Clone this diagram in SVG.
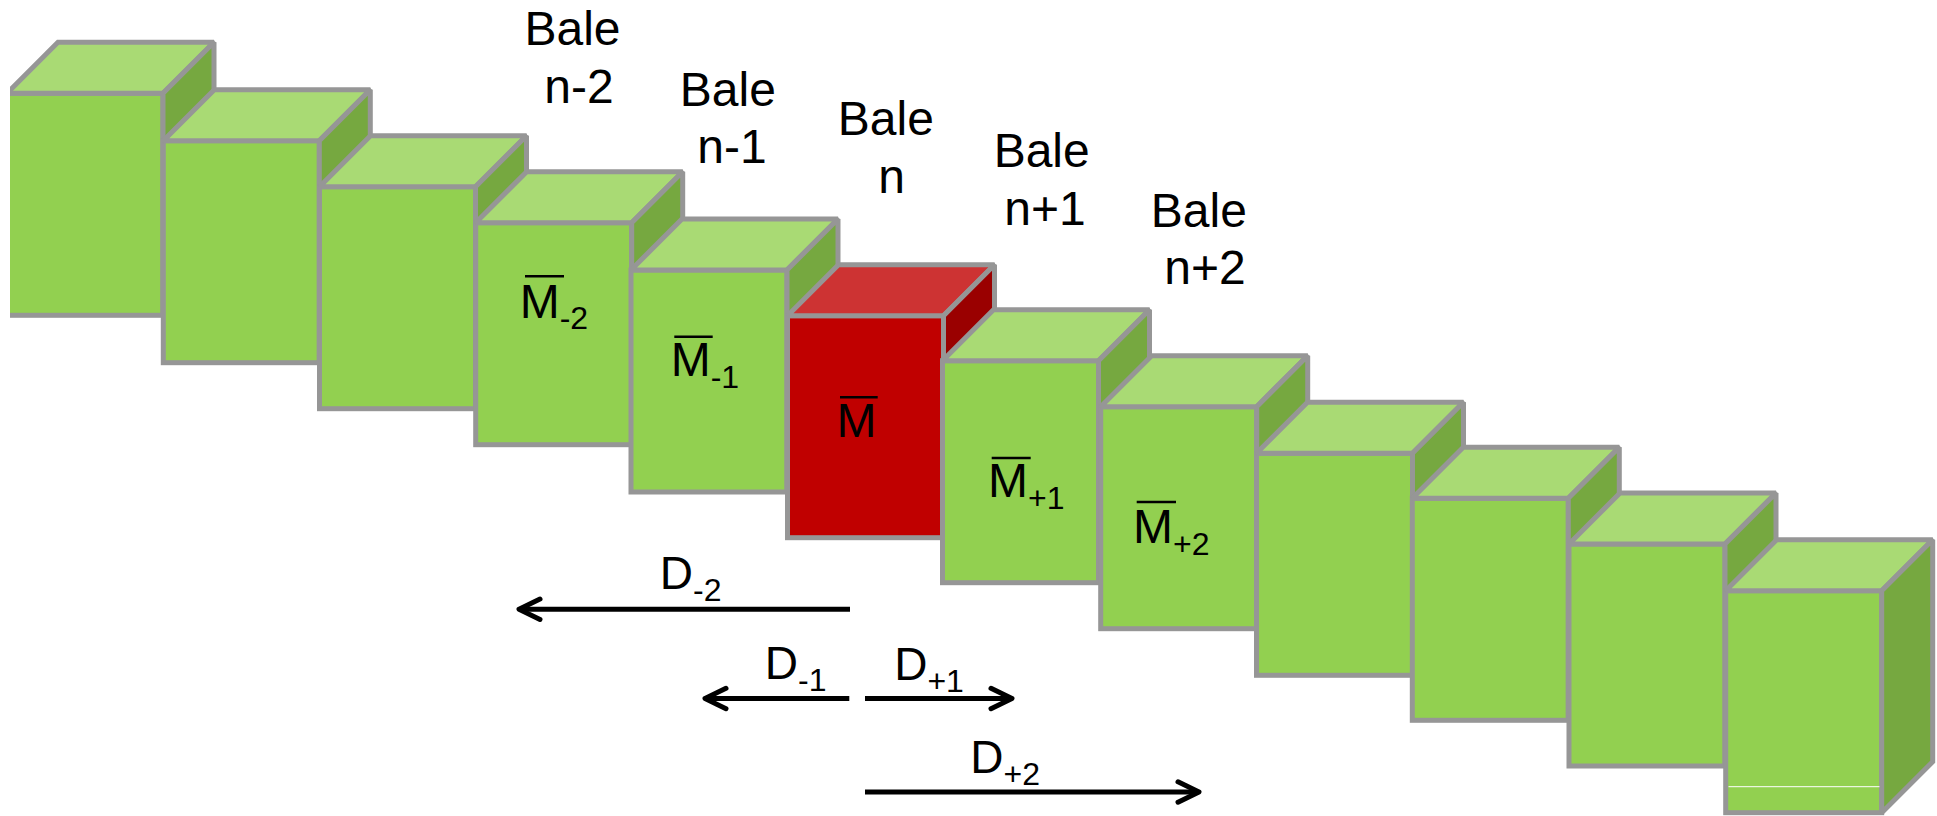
<svg xmlns="http://www.w3.org/2000/svg" width="1937" height="816" viewBox="0 0 1937 816">
<style>
.cube rect,.cube polygon{stroke:#969696;stroke-width:5;stroke-linejoin:miter;stroke-miterlimit:2}
.front{fill:#92D050}.top{fill:#A9DA74}.side{fill:#76A840}
.red .front{fill:#C00000}.red .top{fill:#CD3333}.red .side{fill:#9A0000}
text{font-family:"Liberation Sans",Arial,sans-serif;fill:#000}
.bale{font-size:48px;text-anchor:middle}
.m{font-size:48px}
.d{font-size:46px}
.sub{font-size:32px}
.bar{stroke:#000;stroke-width:2.5}
.arr{stroke:#000;stroke-width:5;fill:none}
.head{stroke:#000;stroke-width:5;fill:none;stroke-linecap:round;stroke-linejoin:round}
</style>
<defs>
<clipPath id="clipL"><rect x="10" y="0" width="1927" height="816"/></clipPath>
</defs>
<rect width="1937" height="816" fill="#fff"/>

<g id="cube1" class="cube" clip-path="url(#clipL)"><g transform="translate(7,93.3)">
<rect class="front" x="0" y="0" width="156" height="222"/><polygon class="top" points="0,0 51,-51 207,-51 156,0"/><polygon class="side" points="156,0 207,-51 207,171 156,222"/></g></g>

<g id="cube2" class="cube"><g transform="translate(163.3,140.7)">
<rect class="front" x="0" y="0" width="156" height="222"/><polygon class="top" points="0,0 51,-51 207,-51 156,0"/><polygon class="side" points="156,0 207,-51 207,171 156,222"/></g></g>

<g id="cube3" class="cube"><g transform="translate(319.5,186.7)">
<rect class="front" x="0" y="0" width="156" height="222"/><polygon class="top" points="0,0 51,-51 207,-51 156,0"/><polygon class="side" points="156,0 207,-51 207,171 156,222"/></g></g>

<g id="cube4" class="cube"><g transform="translate(475.7,222.7)">
<rect class="front" x="0" y="0" width="156" height="222"/><polygon class="top" points="0,0 51,-51 207,-51 156,0"/><polygon class="side" points="156,0 207,-51 207,171 156,222"/></g>
<text class="bale" x="572.5" y="45">Bale</text><text class="bale" x="579" y="103.3">n-2</text>
<text class="m" x="519.7" y="318.3">M<tspan class="sub" dy="11">-2</tspan></text>
<line class="bar" x1="525" y1="276.2" x2="564" y2="276.2"/>
</g>

<g id="cube5" class="cube"><g transform="translate(631,270)">
<rect class="front" x="0" y="0" width="156" height="222"/><polygon class="top" points="0,0 51,-51 207,-51 156,0"/><polygon class="side" points="156,0 207,-51 207,171 156,222"/></g>
<text class="bale" x="727.8" y="106">Bale</text><text class="bale" x="732" y="163.3">n-1</text>
<text class="m" x="670.7" y="376">M<tspan class="sub" dy="12">-1</tspan></text>
<line class="bar" x1="674.3" y1="336.8" x2="712.7" y2="336.8"/>
</g>

<g id="cube6" class="cube red"><g transform="translate(787.5,315.7)">
<rect class="front" x="0" y="0" width="156" height="222"/><polygon class="top" points="0,0 51,-51 207,-51 156,0"/><polygon class="side" points="156,0 207,-51 207,171 156,222"/></g>
<text class="bale" x="885.8" y="135">Bale</text><text class="bale" x="891.7" y="192.7">n</text>
<text class="m" x="836.4" y="436.7">M</text>
<line class="bar" x1="840" y1="397.3" x2="877.7" y2="397.3"/>
</g>

<g id="cube7" class="cube"><g transform="translate(942.5,360.7)">
<rect class="front" x="0" y="0" width="156" height="222"/><polygon class="top" points="0,0 51,-51 207,-51 156,0"/><polygon class="side" points="156,0 207,-51 207,171 156,222"/></g>
<text class="bale" x="1041.7" y="167.3">Bale</text><text class="bale" x="1045" y="225">n+1</text>
<text class="m" x="988.1" y="496.7">M<tspan class="sub" dy="12">+1</tspan></text>
<line class="bar" x1="991.7" y1="458" x2="1030.7" y2="458"/>
</g>

<g id="cube8" class="cube"><g transform="translate(1100.7,406.7)">
<rect class="front" x="0" y="0" width="156" height="222"/><polygon class="top" points="0,0 51,-51 207,-51 156,0"/><polygon class="side" points="156,0 207,-51 207,171 156,222"/></g>
<text class="bale" x="1198.8" y="226.7">Bale</text><text class="bale" x="1205" y="284">n+2</text>
<text class="m" x="1133.1" y="542.7">M<tspan class="sub" dy="12">+2</tspan></text>
<line class="bar" x1="1136.7" y1="502" x2="1176" y2="502"/>
</g>

<g id="cube9" class="cube"><g transform="translate(1256.5,453.3)">
<rect class="front" x="0" y="0" width="156" height="222"/><polygon class="top" points="0,0 51,-51 207,-51 156,0"/><polygon class="side" points="156,0 207,-51 207,171 156,222"/></g></g>

<g id="cube10" class="cube"><g transform="translate(1412.3,498.3)">
<rect class="front" x="0" y="0" width="156" height="222"/><polygon class="top" points="0,0 51,-51 207,-51 156,0"/><polygon class="side" points="156,0 207,-51 207,171 156,222"/></g></g>

<g id="cube11" class="cube"><g transform="translate(1569,544)">
<rect class="front" x="0" y="0" width="156" height="222"/><polygon class="top" points="0,0 51,-51 207,-51 156,0"/><polygon class="side" points="156,0 207,-51 207,171 156,222"/></g></g>

<g id="cube12" class="cube"><g transform="translate(1725.7,590.7)">
<rect class="front" x="0" y="0" width="156" height="222"/><polygon class="top" points="0,0 51,-51 207,-51 156,0"/><polygon class="side" points="156,0 207,-51 207,171 156,222"/></g>
<line x1="1728.5" y1="786.7" x2="1879.5" y2="786.7" stroke="#ffffff" stroke-width="1"/>
</g>

<g id="connectors">
<line class="arr" x1="850" y1="609.2" x2="521" y2="609.2"/>
<polyline class="head" points="540,599 519,609.2 540,619.4"/>
<text class="d" x="659.8" y="589.3">D<tspan class="sub" dy="12">-2</tspan></text>

<line class="arr" x1="849.3" y1="698.5" x2="707" y2="698.5"/>
<polyline class="head" points="726,688.3 705,698.5 726,708.7"/>
<text class="d" x="764.8" y="678.5">D<tspan class="sub" dy="12">-1</tspan></text>

<line class="arr" x1="865" y1="698.5" x2="1010" y2="698.5"/>
<polyline class="head" points="991,688.3 1012,698.5 991,708.7"/>
<text class="d" x="894.2" y="680">D<tspan class="sub" dy="12">+1</tspan></text>

<line class="arr" x1="865" y1="792" x2="1197" y2="792"/>
<polyline class="head" points="1178,781.8 1199,792 1178,802.2"/>
<text class="d" x="970.3" y="773.3">D<tspan class="sub" dy="12">+2</tspan></text>
</g>
</svg>
